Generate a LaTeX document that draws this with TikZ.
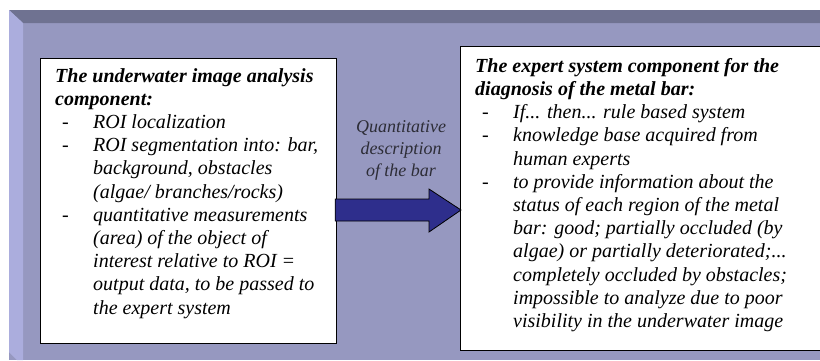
\documentclass[tikz,border=0pt]{standalone}
\usepackage{fontspec}
\setmainfont{Liberation Serif}
\usetikzlibrary{calc}
\definecolor{panelmain}{RGB}{150,152,192}
\definecolor{paneltop}{RGB}{111,114,145}
\definecolor{panelleft}{RGB}{171,173,221}
\definecolor{arrowblue}{RGB}{46,46,140}
\definecolor{labelgray}{RGB}{45,45,55}
\newcommand{\itm}{\hspace*{7pt}\makebox[31pt][l]{-}}
\newcommand{\cnt}{\hspace*{38pt}}
\begin{document}
\begin{tikzpicture}[x=1pt,y=-1pt,
  panelbox/.style={draw=black,line width=1.2pt,fill=white,inner sep=0pt,anchor=north west},
  boxtext/.style={anchor=north west,inner sep=0pt,align=left,font=\fontsize{20}{23.2}\selectfont\itshape},
  flowarrow/.style={draw=black,line width=0.8pt,fill=arrowblue,line join=miter},
  arrowlabel/.style={align=center,inner sep=0pt,text=labelgray,font=\fontsize{18}{22}\selectfont\itshape}]
\useasboundingbox (0,0) rectangle (820,360);
\clip (0,0) rectangle (820,360);
\fill[white] (0,0) rectangle (820,360);
% panel
\fill[panelmain] (9,10) rectangle (820,360);
\fill[paneltop] (9,10) -- (820,10) -- (820,23) -- (23,23) -- cycle;
\fill[panelleft] (9,10) -- (23,23) -- (23,360) -- (17,360) -- (9,352) -- cycle;
% boxes
\node[panelbox,minimum width=296pt,minimum height=285pt] (ana) at (40,58) {};
\node[panelbox,minimum width=380pt,minimum height=304pt] (exp) at (460,46) {};
\node[boxtext] (anatext) at (55,68) {%
\textbf{The underwater image analysis}\\
\textbf{component:}\\
\itm ROI localization\\
\itm ROI segmentation into: bar,\\
\cnt background, obstacles\\
\cnt (algae/ branches/rocks)\\
\itm quantitative measurements\\
\cnt (area) of the object of\\
\cnt interest relative to ROI =\\
\cnt output data, to be passed to\\
\cnt the expert system};
\node[boxtext] (exptext) at (475,58) {%
\textbf{The expert system component for the}\\
\textbf{diagnosis of the metal bar:}\\
\itm If... then... rule based system\\
\itm knowledge base acquired from\\
\cnt human experts\\
\itm to provide information about the\\
\cnt status of each region of the metal\\
\cnt bar: good; partially occluded (by\\
\cnt algae) or partially deteriorated;...\\
\cnt completely occluded by obstacles;\\
\cnt impossible to analyze due to poor\\
\cnt visibility in the underwater image};
% arrow
\coordinate (as) at (ana.east |- 0,210);
\coordinate (at) at (exp.west |- 0,210);
\draw[flowarrow] ($(as)+(-2,-11)$) -- ($(at)+(-31,-11)$) -- ($(at)+(-31,-21)$) -- ($(at)+(1,0)$)
  -- ($(at)+(-31,22)$) -- ($(at)+(-31,11)$) -- ($(as)+(-2,11)$) -- cycle;
\node[arrowlabel] (lbl) at (401,150) {Quantitative\\description\\of the bar};
\end{tikzpicture}
\end{document}
